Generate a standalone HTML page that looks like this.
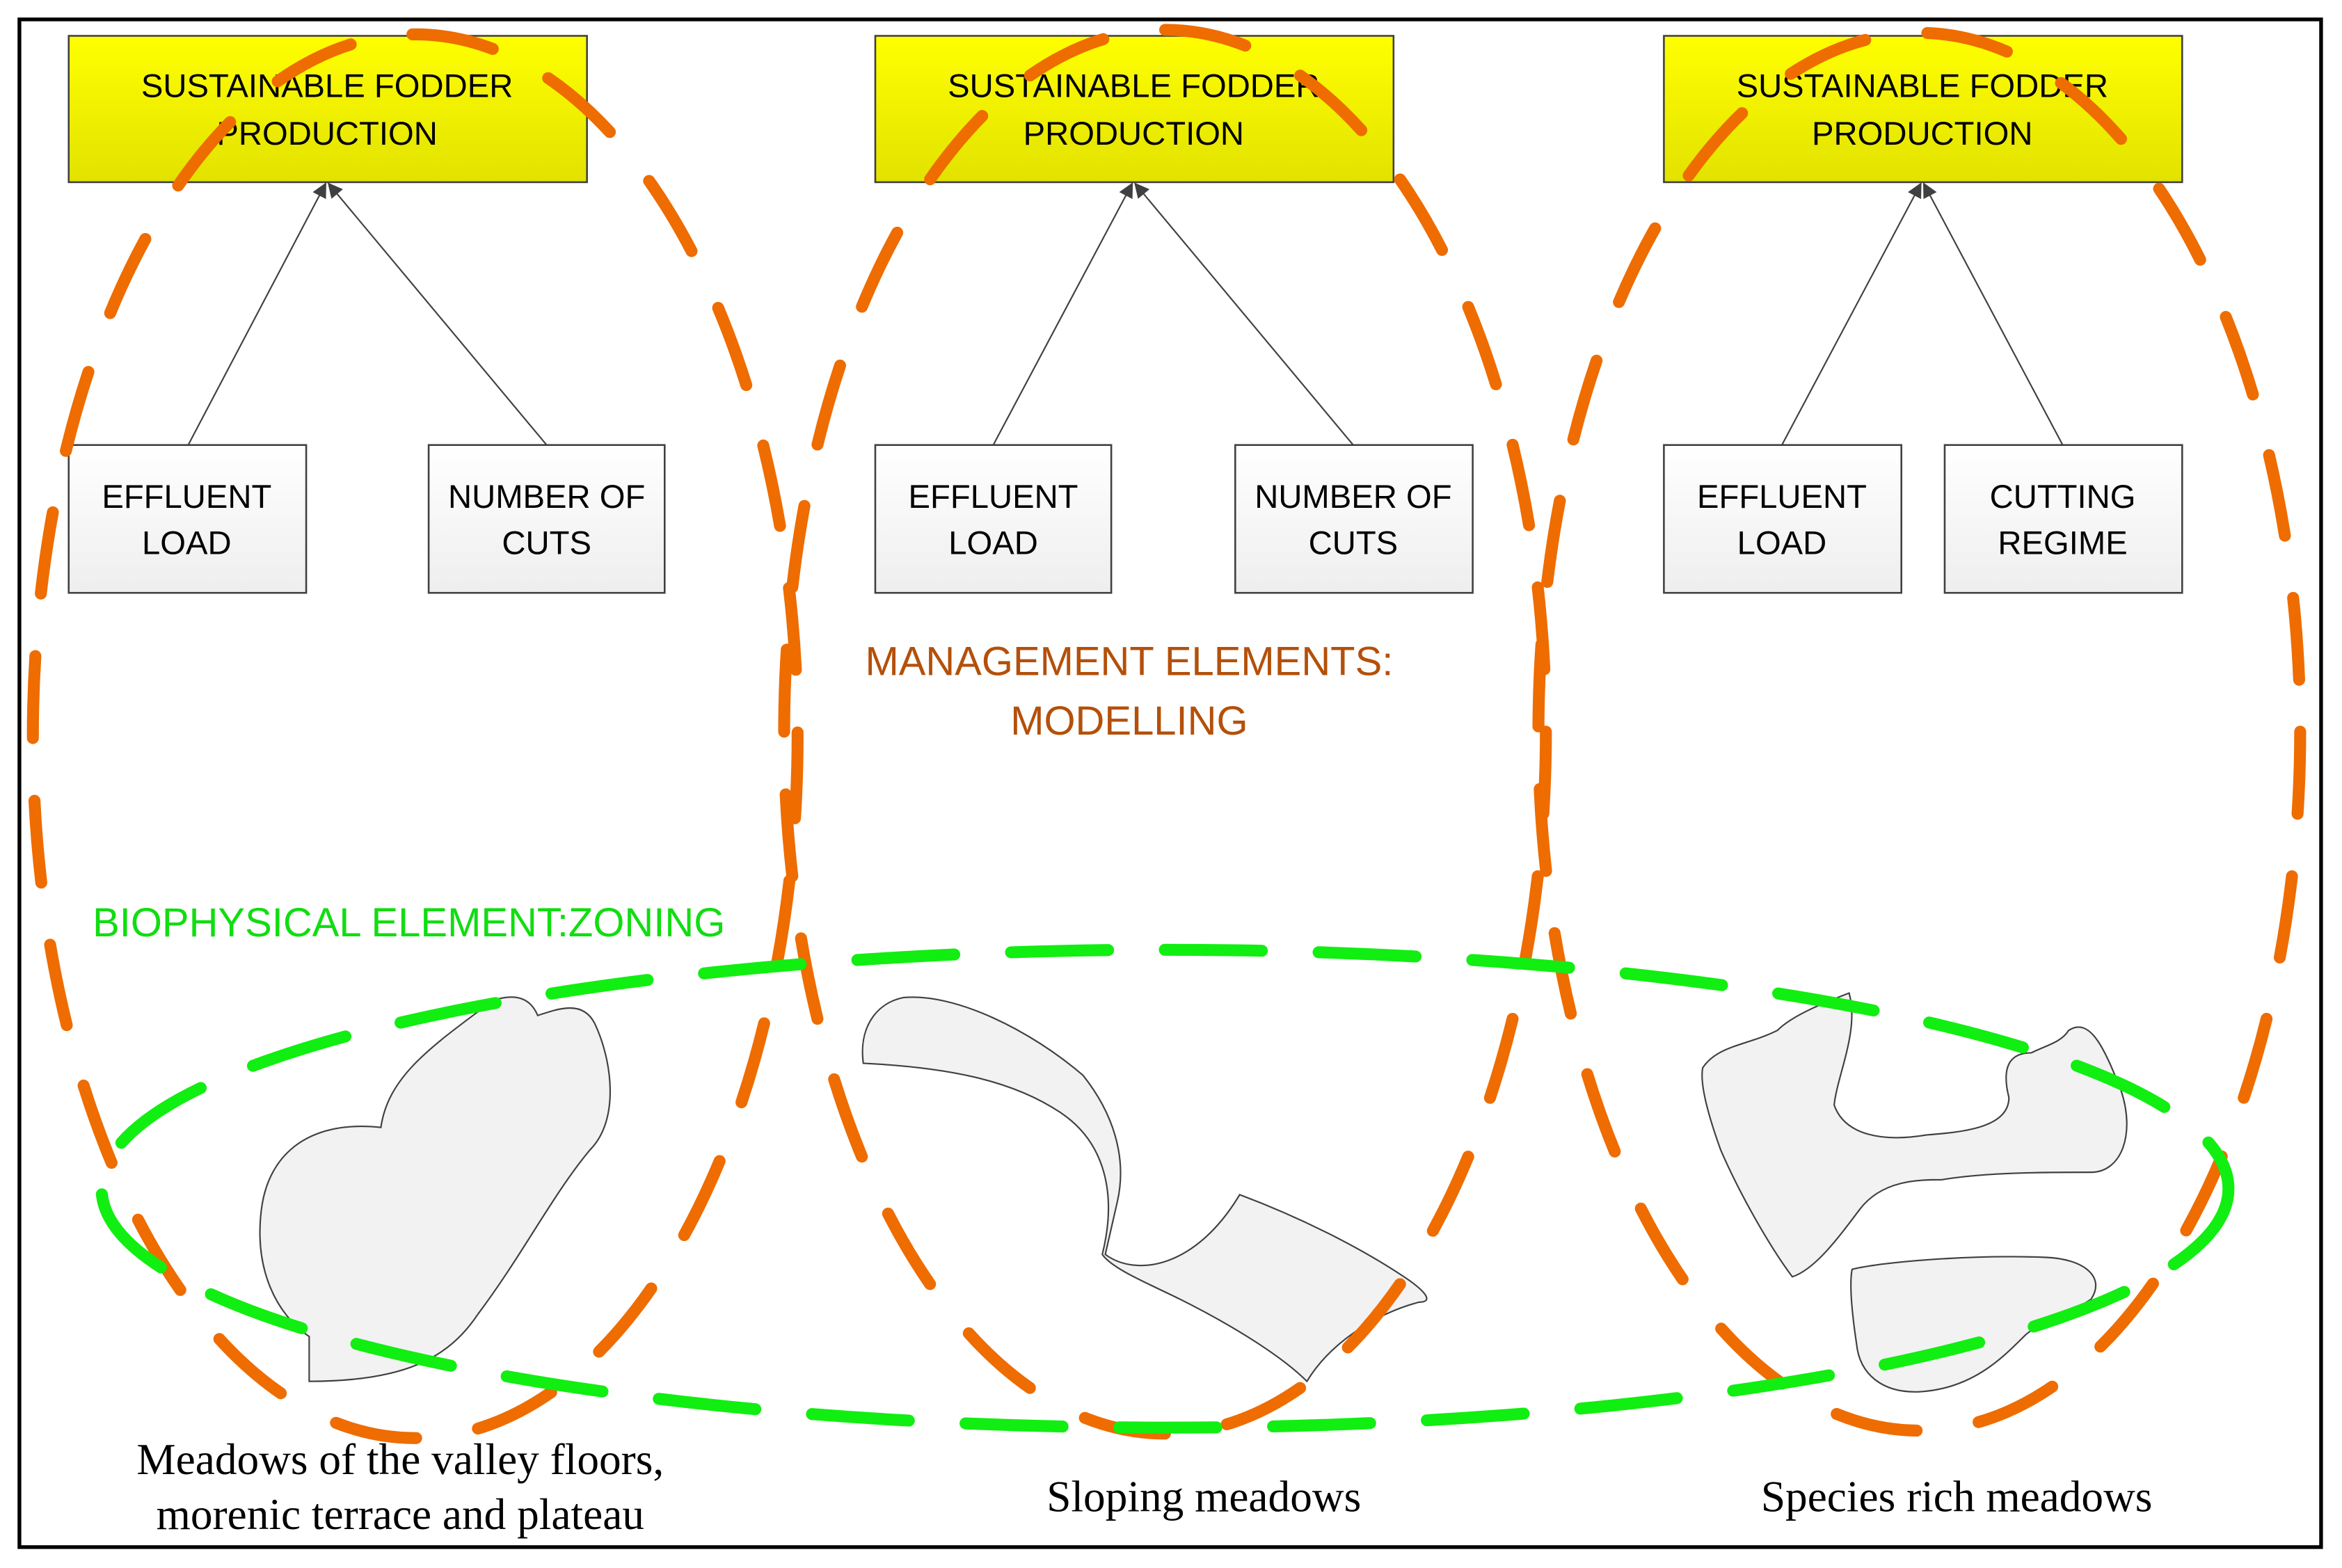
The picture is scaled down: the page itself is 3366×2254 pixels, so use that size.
<!DOCTYPE html>
<html><head><meta charset="utf-8"><style>
html,body{margin:0;padding:0;background:#fff;}
svg{display:block;}
text{font-family:"Liberation Sans","DejaVu Sans",sans-serif;}
text.sf{font-family:"Liberation Serif","DejaVu Serif",serif;}
</style></head><body>
<svg width="3366" height="2254" viewBox="0 0 1568 1050" preserveAspectRatio="none" xmlns="http://www.w3.org/2000/svg">
<defs>
<linearGradient id="yg" x1="0" y1="0" x2="0" y2="1"><stop offset="0" stop-color="#ffff00"/><stop offset="1" stop-color="#e2e200"/></linearGradient>
<linearGradient id="gg" x1="0" y1="0" x2="0" y2="1"><stop offset="0" stop-color="#ffffff"/><stop offset="1" stop-color="#eeeeee"/></linearGradient>
<marker id="ar" viewBox="0 0 10 10" refX="9" refY="5" markerWidth="12" markerHeight="10" markerUnits="userSpaceOnUse" orient="auto"><path d="M0,0 L10,5 L0,10 z" fill="#404040"/></marker>
</defs>
<rect x="13" y="13" width="1541" height="1023" fill="#fff" stroke="#000" stroke-width="2.5"/>
<g font-size="22" text-anchor="middle" fill="#000">
<rect x="46" y="24" width="347" height="98" fill="url(#yg)" stroke="#404040" stroke-width="1.2"/>
<text x="219" y="65">SUSTAINABLE FODDER</text><text x="219" y="97">PRODUCTION</text>
<rect x="586" y="24" width="347" height="98" fill="url(#yg)" stroke="#404040" stroke-width="1.2"/>
<text x="759" y="65">SUSTAINABLE FODDER</text><text x="759" y="97">PRODUCTION</text>
<rect x="1114" y="24" width="347" height="98" fill="url(#yg)" stroke="#404040" stroke-width="1.2"/>
<text x="1287" y="65">SUSTAINABLE FODDER</text><text x="1287" y="97">PRODUCTION</text>

<rect x="46" y="298" width="159" height="99" fill="url(#gg)" stroke="#404040" stroke-width="1.2"/>
<text x="125" y="340">EFFLUENT</text><text x="125" y="371">LOAD</text>
<rect x="287" y="298" width="158" height="99" fill="url(#gg)" stroke="#404040" stroke-width="1.2"/>
<text x="366" y="340">NUMBER OF</text><text x="366" y="371">CUTS</text>
<rect x="586" y="298" width="158" height="99" fill="url(#gg)" stroke="#404040" stroke-width="1.2"/>
<text x="665" y="340">EFFLUENT</text><text x="665" y="371">LOAD</text>
<rect x="827" y="298" width="159" height="99" fill="url(#gg)" stroke="#404040" stroke-width="1.2"/>
<text x="906" y="340">NUMBER OF</text><text x="906" y="371">CUTS</text>
<rect x="1114" y="298" width="159" height="99" fill="url(#gg)" stroke="#404040" stroke-width="1.2"/>
<text x="1193" y="340">EFFLUENT</text><text x="1193" y="371">LOAD</text>
<rect x="1302" y="298" width="159" height="99" fill="url(#gg)" stroke="#404040" stroke-width="1.2"/>
<text x="1381" y="340">CUTTING</text><text x="1381" y="371">REGIME</text>
</g>
<g stroke="#404040" stroke-width="1" marker-end="url(#ar)">
<line x1="126" y1="298" x2="218" y2="123"/><line x1="366" y1="298" x2="220" y2="123"/>
<line x1="665" y1="298" x2="758" y2="123"/><line x1="906" y1="298" x2="760" y2="123"/>
<line x1="1193" y1="298" x2="1286" y2="123"/><line x1="1381" y1="298" x2="1288" y2="123"/>
</g>
<g fill="#f2f2f2" stroke="#404040" stroke-width="1">
<path d="M207,925 L207,895 C185,880 170,850 175,810 C180,770 210,750 255,755 C260,720 290,700 330,670 C345,665 355,668 360,680 C375,675 390,670 398,685 C410,710 415,750 395,770 C370,800 350,840 320,880 C300,910 270,925 207,925 Z"/>
<path d="M578,712 C575,690 585,672 605,668 C640,665 690,690 725,720 C745,745 755,775 748,805 L740,840 C760,855 800,850 830,800 C870,815 910,835 940,855 C955,865 960,872 950,872 C920,880 890,900 875,925 C860,910 830,890 790,870 C770,860 745,850 738,840 C748,800 740,765 710,745 C680,725 640,715 578,712 Z"/>
<path d="M1140,715 C1150,700 1170,700 1190,690 C1200,680 1220,672 1238,665 C1245,690 1230,720 1228,740 C1235,760 1260,765 1290,760 C1315,758 1345,755 1345,735 C1340,715 1345,705 1360,705 C1370,700 1380,698 1385,690 C1400,680 1410,705 1420,730 C1430,760 1420,785 1400,785 C1370,785 1330,785 1300,790 C1285,790 1260,790 1245,810 C1230,830 1215,850 1200,855 C1185,835 1165,800 1152,770 C1143,745 1138,725 1140,715 Z"/>
<path d="M1240,850 C1260,845 1320,840 1370,842 C1395,843 1410,855 1400,870 C1385,880 1365,885 1355,895 C1340,910 1320,930 1285,932 C1260,933 1245,920 1243,900 C1240,880 1238,860 1240,850 Z"/>
</g>
<g fill="none" stroke="#ee6c00" stroke-width="8" stroke-linecap="round" stroke-dasharray="55 42">
<ellipse cx="278" cy="493" rx="256" ry="470"/>
<ellipse cx="780" cy="490" rx="255" ry="470"/>
<ellipse cx="1285" cy="490" rx="255" ry="468"/>
</g>
<ellipse cx="780" cy="796" rx="712" ry="160" fill="none" stroke="#11ee11" stroke-width="8" stroke-linecap="round" stroke-dasharray="65 38"/>
<g font-size="27" text-anchor="middle" fill="#b4500a">
<text x="756" y="452">MANAGEMENT ELEMENTS:</text><text x="756" y="492">MODELLING</text>
</g>
<text x="62" y="627" font-size="27" fill="#11dd11">BIOPHYSICAL ELEMENT:ZONING</text>
<g font-size="29.5" text-anchor="middle" fill="#000">
<text class="sf" x="268" y="987">Meadows of the valley floors,</text>
<text class="sf" x="268" y="1024">morenic terrace and plateau</text>
<text class="sf" x="806" y="1012">Sloping meadows</text>
<text class="sf" x="1310" y="1012">Species rich meadows</text>
</g>
</svg>
</body></html>
